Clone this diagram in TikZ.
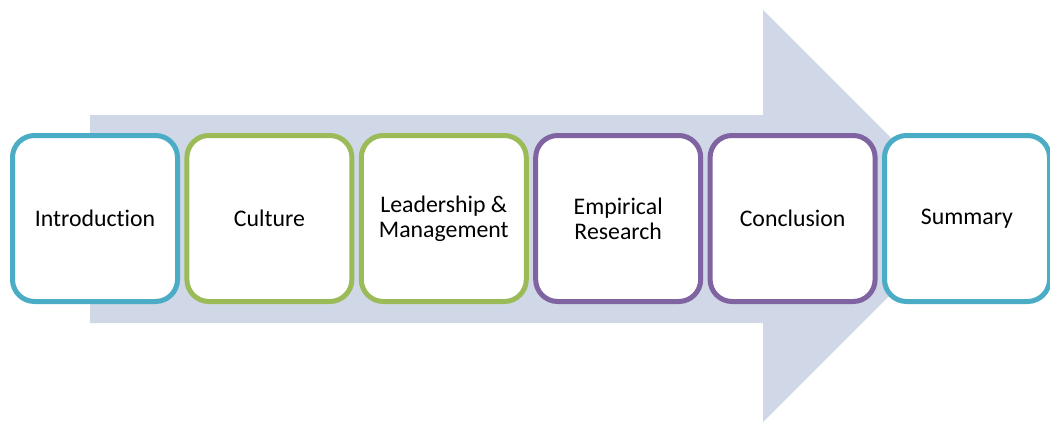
\documentclass[tikz,border=0pt]{standalone}
\usepackage{fontspec}
\setmainfont{Carlito}[Ligatures=NoCommon]
\definecolor{arrowfill}{HTML}{D0D8E8}
\definecolor{cblue}{HTML}{4BACC6}
\definecolor{cgreen}{HTML}{9BBB59}
\definecolor{cpurple}{HTML}{8064A2}
\begin{document}
\begin{tikzpicture}[x=1pt,y=-1pt,
  stage/.style={draw, fill=white, line width=5pt, rounded corners=22pt,
    minimum width=165pt, minimum height=166pt, inner sep=0pt, align=center,
    font=\fontsize{23.8}{25}\selectfont, text=black}]
\useasboundingbox (0,0) rectangle (1050,423);
\fill[arrowfill] (90,115) -- (763,115) -- (763,10) -- (969,216) -- (763,422) -- (763,323) -- (90,323) -- cycle;
\node[stage, draw=cblue] (intro) at (95,218.5) {Introduction};
\node[stage, draw=cgreen] (culture) at (269.4,218.5) {Culture};
\node[stage, draw=cgreen] (lead) at (443.8,218.5) {Leadership \&\\Management};
\node[stage, draw=cpurple] (emp) at (618.2,218.5) {Empirical\\Research};
\node[stage, draw=cpurple] (concl) at (792.6,218.5) {Conclusion};
\node[stage, draw=cblue] (summ) at (967,218.5) {Summary};
\end{tikzpicture}
\end{document}
